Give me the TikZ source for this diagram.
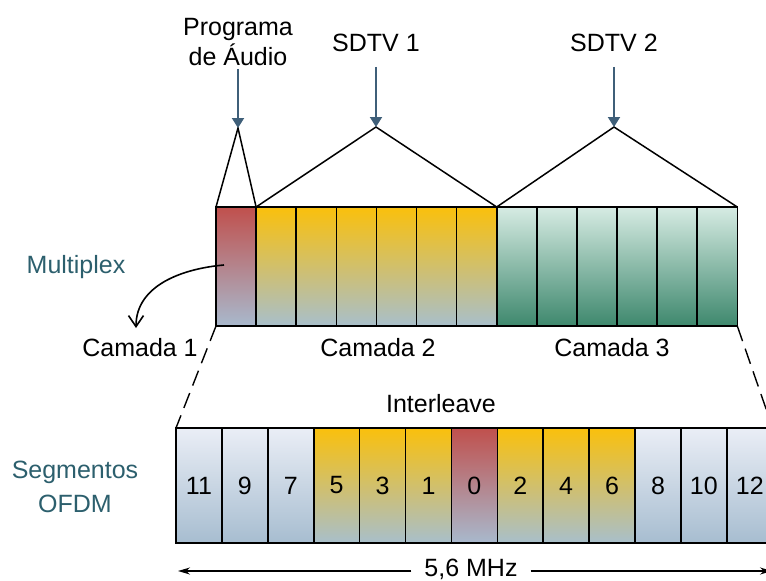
\documentclass[tikz,border=0pt]{standalone}
\usepackage{fontspec}
\setmainfont{Liberation Sans}
\usetikzlibrary{arrows.meta}

\definecolor{redtop}{HTML}{C0504D}
\definecolor{redbot}{HTML}{A8B9CD}
\definecolor{yeltop}{HTML}{FAC00C}
\definecolor{yelbot}{HTML}{A8BFCB}
\definecolor{grntop}{HTML}{D6EBE3}
\definecolor{grnbot}{HTML}{3E886D}
\definecolor{blutop}{HTML}{EAEEF6}
\definecolor{blubot}{HTML}{A7BDD0}
\definecolor{feedblue}{HTML}{3F5F79}
\definecolor{labelteal}{HTML}{2C5F6D}

\tikzset{
    txt/.style={font=\fontsize{25}{30}\selectfont},
    seg/.style={draw=black, line width=1.6pt, outer sep=0pt, inner sep=0pt,
        anchor=north west, minimum width=40.1pt, minimum height=119pt},
    lowseg/.style={seg, minimum width=45.9pt, minimum height=115pt},
    tone/.style={top color=#1top, bottom color=#1bot},
    feed/.style={feedblue, line width=2pt, -{Triangle[length=10pt,width=12pt]}},
    cut/.style={line width=1.4pt, dash pattern=on 16pt off 8pt},
}

\begin{document}
\begin{tikzpicture}[x=1pt, y=-1pt]
            \useasboundingbox (0,0) rectangle (766,581);
            \clip (0,0) rectangle (766,581);

            % Draw the three layers
            \node[seg, tone=red] (c1) at (216,207) {};
            \foreach \i in {1,...,6}
                \node[seg, tone=yel] (y\i) at ({256.1+40.1*(\i-1)},207) {};
            \foreach \i in {1,...,6}
                \node[seg, tone=grn] (g\i) at ({496.7+40.1*(\i-1)},207) {};

            % Draw the OFDM segments after interleaving
            \foreach \lab/\col [count=\k from 0] in {11/blu,9/blu,7/blu,5/yel,3/yel,1/yel,0/red,2/yel,4/yel,6/yel,8/blu,10/blu,12/blu}
                \node[lowseg, tone=\col, txt] (s\lab) at ({176+45.9*\k},428) {\lab};

            % Programs on top
            \node[txt, anchor=base] (audtop) at (238,35) {Programa};
            \node[txt, anchor=base] (audbot) at (238,65) {de Áudio};
            \node[txt, anchor=base] (sd1) at (376,51) {SDTV 1};
            \node[txt, anchor=base] (sd2) at (614,51) {SDTV 2};

            % Triangles from each program to its layer
            \coordinate (apA) at (238,128);
            \coordinate (apB) at (376,127);
            \coordinate (apC) at (614,127);
            \draw[line width=1.5pt] (c1.north west) -- (apA) -- (c1.north east);
            \draw[line width=1.5pt] (y1.north west) -- (apB) -- (y6.north east);
            \draw[line width=1.5pt] (g1.north west) -- (apC) -- (g6.north east);
            \draw[feed] (audbot) -- (apA);
            \draw[feed, shorten <=12pt] (sd1) -- (apB);
            \draw[feed, shorten <=12pt] (sd2) -- (apC);

            % Layer labels
            \node[txt, anchor=base, labelteal] (mux) at (76,273) {Multiplex};
            \node[txt, anchor=base] (cam1) at (140,356) {Camada 1};
            \node[txt, anchor=base] (cam2) at (378,356) {Camada 2};
            \node[txt, anchor=base] (cam3) at (612,356) {Camada 3};

            % Multiplex arrow
            \coordinate (muxsrc) at (224,265);
            \coordinate (muxdst) at (136,328);
            \draw[line width=1.6pt, -{Straight Barb[length=11pt,width=15pt]}]
                (muxsrc) to[out=185, in=90] (muxdst);

            % Dashed guides between the two rows
            \draw[cut] (c1.south west) -- (s11.north west);
            \draw[cut] (g6.south east) -- (s12.north east);

            % Lower labels
            \node[txt, anchor=base] (inter) at (441,412) {Interleave};
            \node[txt, anchor=base, labelteal] (segA) at (75,478) {Segmentos};
            \node[txt, anchor=base, labelteal] (segB) at (75,512) {OFDM};

            % Bandwidth
            \node[txt, anchor=base, inner xsep=13pt, inner ysep=1pt] (bw) at (471,576) {5,6 MHz};
            \coordinate (bwl) at (178,571);
            \coordinate (bwr) at (772,571);
            \draw[line width=1.4pt, -{Stealth[length=12pt,width=7pt]}] (bw.west |- bwl) -- (bwl);
            \draw[line width=1.4pt, -{Stealth[length=12pt,width=7pt]}] (bw.east |- bwr) -- (bwr);
\end{tikzpicture}
\end{document}
